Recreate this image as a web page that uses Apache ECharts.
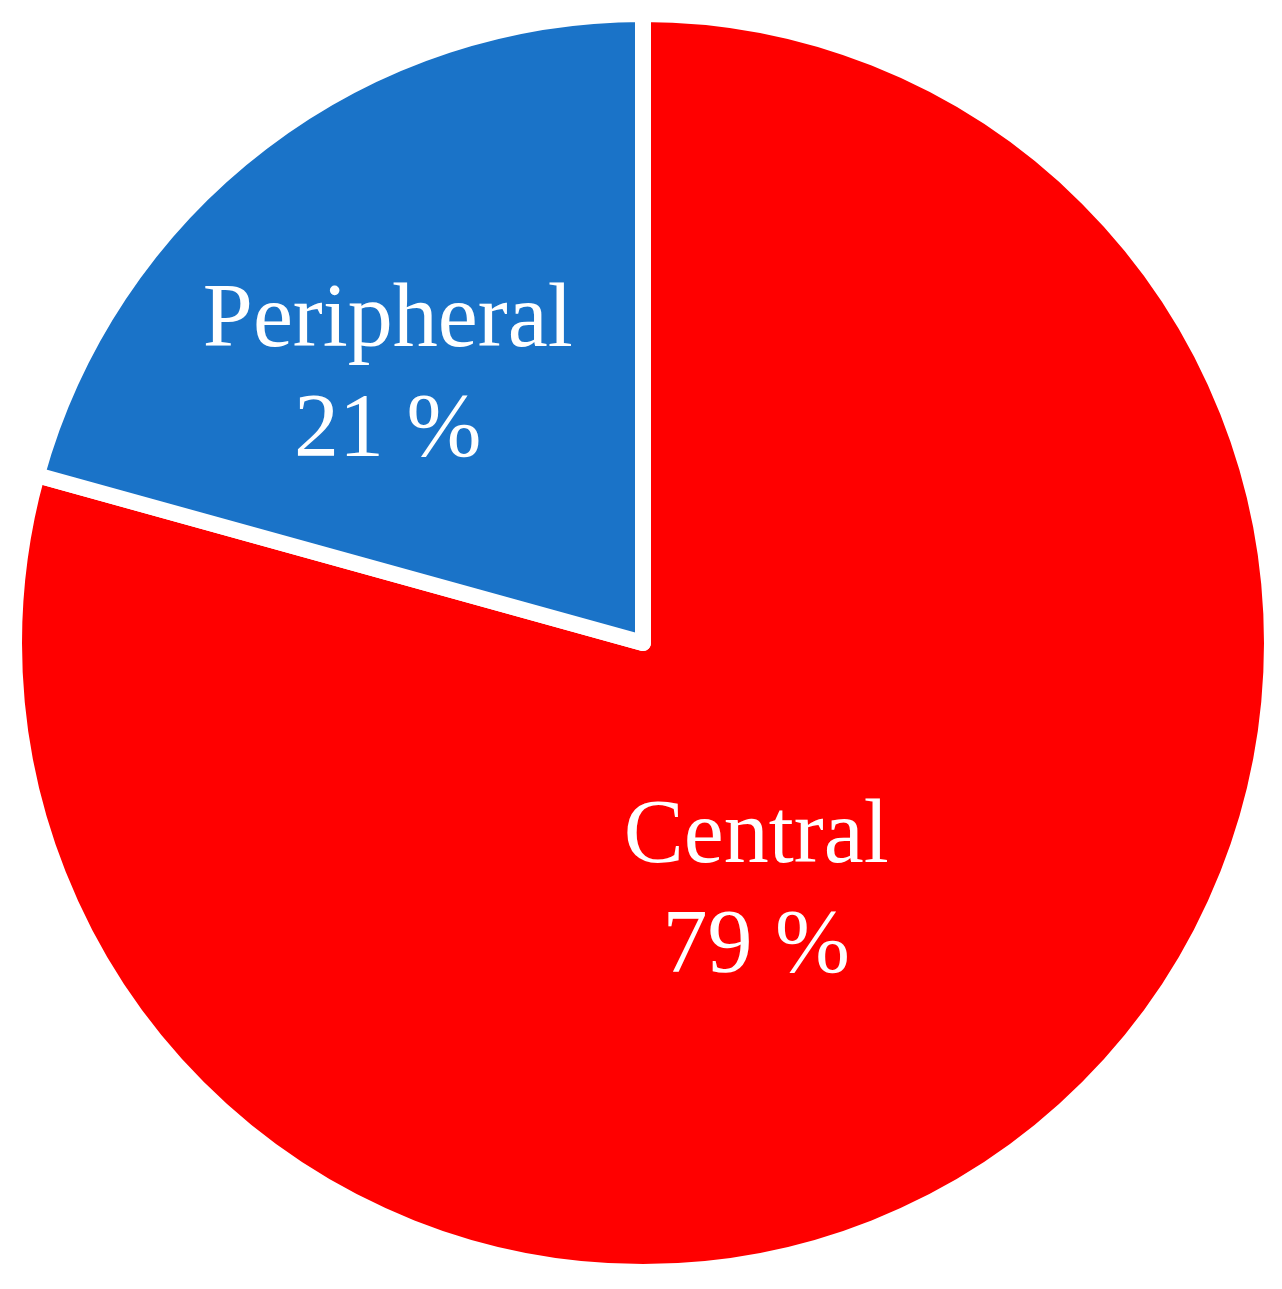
<!DOCTYPE html>
<html>
<head>
<meta charset="utf-8">
<script src="https://cdn.jsdelivr.net/npm/echarts@6/dist/echarts.min.js"></script>
<style>
  html, body { margin: 0; padding: 0; background: #fff; }
  #pie { width: 1282px; height: 1289px; }
</style>
</head>
<body>
<div id="pie"></div>
<script>
  const categories = ['Central', 'Peripheral'];
  const shares = [79.3, 20.7];
  const colors = ['#ff0000', '#1a73c8'];
  // label nudges from the default inside position
  const labelShift = [[-79, -2], [-63, -13]];

  let myChart = echarts.init(document.getElementById('pie'));
  myChart.setOption({
    animation: false,
    series: [
      {
        type: 'pie',
        center: [643, 643],
        radius: 629,
        startAngle: 90,
        clockwise: true,
        emphasis: { disabled: true },
        itemStyle: {
          borderColor: '#fff',
          borderWidth: 16,
        },
        label: {
          show: true,
          position: 'inside',
          formatter: function (p) {
            return p.name + '\n' + Math.round(p.value) + ' %';
          },
          color: '#fff',
          fontFamily: 'Liberation Serif',
          fontSize: 90,
          lineHeight: 110,
          align: 'center',
        },
        labelLayout: function (p) {
          return { dx: labelShift[p.dataIndex][0], dy: labelShift[p.dataIndex][1] };
        },
        data: categories.map((name, i) => ({
          name: name,
          value: shares[i],
          itemStyle: { color: colors[i] },
        })),
      }
    ]
  });
</script>
</body>
</html>
